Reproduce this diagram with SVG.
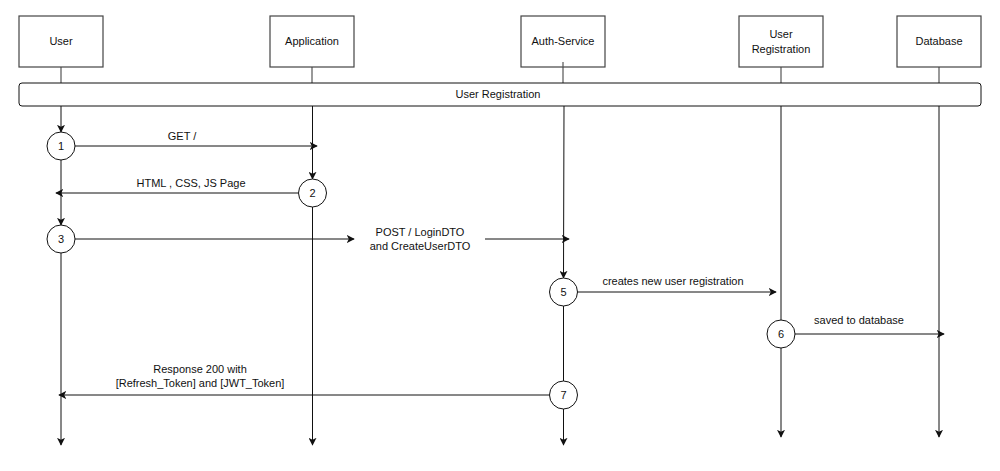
<svg xmlns="http://www.w3.org/2000/svg" width="1000" height="471" viewBox="0 0 1000 471">
<style>
.box{fill:#fff;stroke:#444;stroke-width:1.2}
.t{font-family:"Liberation Sans",Arial,sans-serif;font-size:11px;fill:#111;text-anchor:middle;dominant-baseline:central}
.ln{stroke:#111;stroke-width:1;fill:none}
.stub{stroke:#555;stroke-width:1.2;fill:none}
.ar{marker-end:url(#a)}
.c{fill:#fff;stroke:#111;stroke-width:1}
</style>
<defs>
<marker id="a" viewBox="0 0 10 10" refX="9" refY="5" markerWidth="8" markerHeight="8" markerUnits="userSpaceOnUse" orient="auto">
<path d="M0,0 L10,5 L0,10 L2.5,5 Z" fill="#111"/>
</marker>
</defs>
<g id="connectors">
<line class="stub" x1="61" y1="67" x2="61" y2="83"/>
<line class="stub" x1="312" y1="67" x2="312" y2="83"/>
<line class="stub" x1="563" y1="62" x2="563" y2="83"/>
<line class="stub" x1="781" y1="67" x2="781" y2="83"/>
<line class="stub" x1="939" y1="67" x2="939" y2="83"/>
<line class="ln ar" x1="61" y1="106" x2="61" y2="132"/>
<line class="ln ar" x1="75" y1="146" x2="317" y2="146"/>
<line class="ln ar" x1="312.5" y1="106" x2="312.5" y2="179"/>
<line class="ln ar" x1="298" y1="193" x2="56" y2="193"/>
<line class="ln ar" x1="61" y1="160" x2="61" y2="225"/>
<line class="ln ar" x1="75" y1="239" x2="354" y2="239"/>
<line class="ln ar" x1="485" y1="239" x2="569" y2="239"/>
<line class="ln ar" x1="312.5" y1="207" x2="312.5" y2="445"/>
<line class="ln ar" x1="61" y1="253" x2="61" y2="445"/>
<line class="ln ar" x1="564" y1="106" x2="563.5" y2="278"/>
<line class="ln ar" x1="577" y1="292" x2="776" y2="292"/>
<line class="ln" x1="781" y1="106" x2="781" y2="320"/>
<line class="ln ar" x1="794" y1="334" x2="944" y2="334"/>
<line class="ln ar" x1="781" y1="348" x2="781" y2="437"/>
<line class="ln ar" x1="939" y1="106" x2="939" y2="437"/>
<line class="ln" x1="563.5" y1="306" x2="563.5" y2="381"/>
<line class="ln ar" x1="549" y1="395" x2="59" y2="395"/>
<line class="ln ar" x1="563.5" y1="409" x2="563.5" y2="445"/>
<text class="t" x="182" y="136">GET /</text>
<text class="t" x="191" y="183">HTML , CSS, JS Page</text>
<text class="t" x="420" y="232">POST / LoginDTO</text>
<text class="t" x="420" y="246">and CreateUserDTO</text>
<text class="t" x="673" y="281">creates new user registration</text>
<text class="t" x="859" y="320">saved to database</text>
<text class="t" x="200" y="369">Response 200 with</text>
<text class="t" x="200" y="383">[Refresh_Token] and [JWT_Token]</text>
</g>
<g id="user"><rect class="box" x="19" y="16" width="84" height="51"/><text class="t" x="61" y="41">User</text></g>
<g id="application"><rect class="box" x="270" y="16" width="84" height="51"/><text class="t" x="312" y="41">Application</text></g>
<g id="auth-service"><rect class="box" x="521" y="16" width="84" height="51"/><text class="t" x="563" y="41">Auth-Service</text><line class="stub" x1="563" y1="62" x2="563" y2="67"/></g>
<g id="user-registration"><rect class="box" x="739" y="16" width="84" height="51"/><text class="t" x="781" y="34">User</text><text class="t" x="781" y="49">Registration</text></g>
<g id="database"><rect class="box" x="897" y="16" width="84" height="51"/><text class="t" x="939" y="41">Database</text></g>
<g id="banner"><rect x="19" y="83" width="962" height="23" rx="3" fill="#fff" stroke="#111" stroke-width="1"/><text class="t" x="498" y="94">User Registration</text></g>
<g id="step1"><circle class="c" cx="61" cy="146" r="14"/><text class="t" x="61" y="146">1</text></g>
<g id="step2"><circle class="c" cx="312.5" cy="193" r="14"/><text class="t" x="312.5" y="193">2</text></g>
<g id="step3"><circle class="c" cx="61" cy="239" r="14"/><text class="t" x="61" y="239">3</text></g>
<g id="step5"><circle class="c" cx="563.5" cy="292" r="14"/><text class="t" x="563.5" y="292">5</text></g>
<g id="step6"><circle class="c" cx="781" cy="334" r="14"/><text class="t" x="781" y="334">6</text></g>
<g id="step7"><circle class="c" cx="563.5" cy="395" r="14"/><text class="t" x="563.5" y="395">7</text></g>
</svg>
